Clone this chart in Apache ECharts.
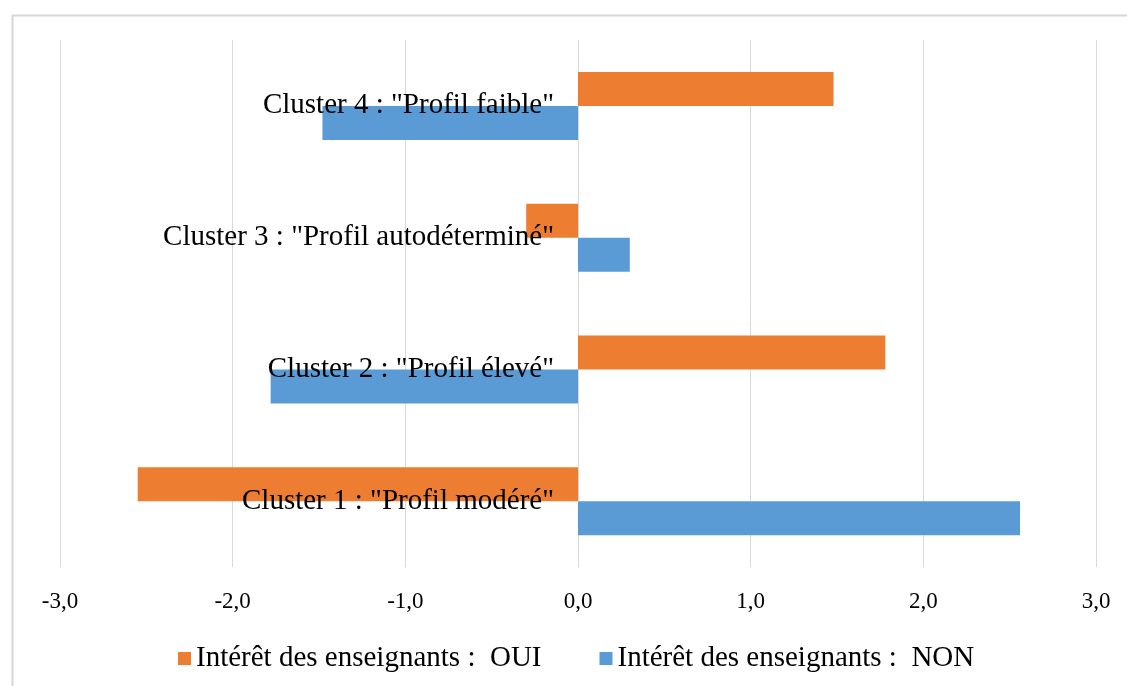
<!DOCTYPE html>
<html>
<head>
<meta charset="utf-8">
<script src="https://cdn.jsdelivr.net/npm/echarts@6/dist/echarts.min.js"></script>
<style>
  html, body { margin: 0; padding: 0; background: #fff; }
  #root { width: 1127px; height: 686px; }
</style>
</head>
<body>
<div id="root"></div>
<script>
// données
const clusters = [
  'Cluster 1 : "Profil modéré"',
  'Cluster 2 : "Profil élevé"',
  'Cluster 3 : "Profil autodéterminé"',
  'Cluster 4 : "Profil faible"',
];
const legendNames = ['Intérêt des enseignants :  OUI', 'Intérêt des enseignants :  NON'];
const ouiValues = [-2.55, 1.78, -0.3, 1.48];
const nonValues = [2.56, -1.78, 0.3, -1.48];

const ORANGE = '#ED7D31';
const BLUE = '#5B9BD5';
const FONT = 'Liberation Serif';

const myChart = echarts.init(document.getElementById('root'));

const options = {
  animation: false,
  graphic: [{
    type: 'rect',
    left: 10,
    top: 13,
    shape: { width: 1200, height: 800 },
    style: { fill: 'none', stroke: '#d6d6d6', lineWidth: 2 },
    silent: true,
  }],
  grid: {
    left: 60, right: 31, top: 40, bottom: 119,
    containLabel: false,
    outerBoundsMode: 'none',
  },
  legend: {
    data: legendNames,
    left: 173,
    top: 639,
    itemWidth: 13,
    itemHeight: 13,
    itemGap: 58,
    icon: 'rect',
    textStyle: { fontFamily: FONT, fontSize: 29, color: '#000' },
  },
  xAxis: {
    type: 'value',
    min: -3,
    max: 3,
    interval: 1,
    axisLine: { show: false },
    axisTick: { show: false },
    splitLine: { lineStyle: { color: '#d9d9d9', width: 1 } },
    axisLabel: {
      margin: 23,
      fontFamily: FONT,
      fontSize: 23,
      color: '#000',
      formatter: (v) => v.toFixed(1).replace('.', ','),
    },
  },
  yAxis: {
    type: 'category',
    data: clusters,
    z: 5,
    position: 'left',
    offset: -518, // axe des catégories placé sur la ligne 0
    axisLine: { show: false },
    axisTick: { show: false },
    axisLabel: {
      margin: 24,
      fontFamily: FONT,
      fontSize: 29,
      color: '#000',
    },
  },
  series: [
    {
      name: legendNames[0],
      type: 'bar',
      data: ouiValues,
      barWidth: 34,
      barGap: '0%',
      itemStyle: { color: ORANGE },
    },
    {
      name: legendNames[1],
      type: 'bar',
      data: nonValues,
      barWidth: 34,
      barGap: '0%',
      itemStyle: { color: BLUE },
    },
  ],
};

myChart.setOption(options);
</script>
</body>
</html>
